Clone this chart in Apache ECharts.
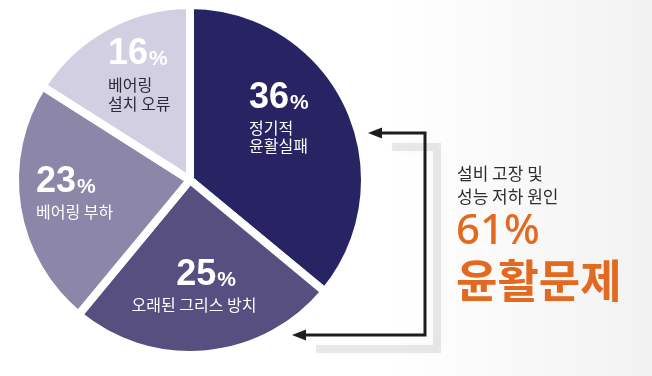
<!DOCTYPE html>
<html>
<head>
<meta charset="utf-8">
<script src="https://cdn.jsdelivr.net/npm/echarts@6/dist/echarts.min.js"></script>
<style>
  html, body { margin: 0; padding: 0; }
  #chart { width: 652px; height: 376px; }
</style>
</head>
<body>
<div id="chart"></div>
<script>
// 원인별 비율 (%)
const causes = ['정기적\n윤활실패', '오래된 그리스 방치', '베어링 부하', '베어링\n설치 오류']
const shares = [36, 25, 23, 16]
const sliceColors = ['#282463', '#574f80', '#8c86a9', '#d1cfe1']

// 오른쪽 요약 문구
const summaryLines = ['설비 고장 및', '성능 저하 원인']
const summaryValue = '61%'
const summaryTitle = '윤활문제'

// 라벨 위치 (px)
const labelPos = [
  { x: 249, y: 77, align: 'left', dark: false },
  { x: 194, y: 254, align: 'center', dark: false },
  { x: 36, y: 161, align: 'left', dark: false },
  { x: 108, y: 33, align: 'left', dark: true }
]

const chart = echarts.init(document.getElementById('chart'))

const numFont = '"Liberation Sans", Arial, sans-serif'
const krFont = '"Noto Sans CJK KR", "Noto Sans", sans-serif'

chart.setOption({
  animation: false,
  backgroundColor: {
    type: 'linear', x: 0, y: 0, x2: 1, y2: 0,
    colorStops: [
      { offset: 0, color: '#ffffff' },
      { offset: 0.6, color: '#ffffff' },
      { offset: 1, color: '#f2f2f2' }
    ]
  },
  series: [
    {
      type: 'pie',
      center: [190, 180],
      radius: 175,
      startAngle: 90,
      silent: true,
      avoidLabelOverlap: false,
      itemStyle: { borderColor: '#ffffff', borderWidth: 8 },
      labelLine: { show: false },
      label: {
        show: true,
        position: 'inside',
        color: '#ffffff',
        formatter: (p) => {
          const big = p.dataIndex === 1 ? 'pc' : 'p'
          const tStyle = labelPos[p.dataIndex].dark ? 'td' : 't'
          const lines = p.name.split('\n').map((t) => '{' + tStyle + '|' + t + '}')
          return '{' + big + '|' + p.value + '}{s|%}\n' + lines.join('\n')
        },
        rich: {
          p: { fontFamily: numFont, fontWeight: 'bold', fontSize: 36, lineHeight: 42 },
          pc: { fontFamily: numFont, fontWeight: 'bold', fontSize: 36, lineHeight: 42, padding: [0, 0, 0, 24] },
          s: { fontFamily: numFont, fontWeight: 'bold', fontSize: 21, padding: [10, 0, 0, 1] },
          t: { fontFamily: krFont, fontSize: 16, lineHeight: 18, color: '#ffffff' },
          td: { fontFamily: krFont, fontSize: 16, lineHeight: 19, color: '#2b2b38' }
        }
      },
      labelLayout: (params) => {
        const pos = labelPos[params.dataIndex]
        return { x: pos.x, y: pos.y, align: pos.align, verticalAlign: 'top' }
      },
      data: shares.map((v, i) => ({
        name: causes[i],
        value: v,
        itemStyle: { color: sliceColors[i] }
      }))
    }
  ],
  graphic: [
    // 꺾쇠 화살표 그림자
    {
      type: 'polyline',
      silent: true,
      shape: { points: [[392, 147], [437, 147], [437, 349], [316, 349]] },
      style: { stroke: 'rgba(0,0,0,0.08)', lineWidth: 8, fill: null, shadowBlur: 10, shadowColor: 'rgba(0,0,0,0.3)' }
    },
    {
      type: 'polyline',
      silent: true,
      shape: { points: [[378, 133], [425, 133], [425, 335], [302, 335]] },
      style: { stroke: '#1d1d1d', lineWidth: 3, fill: null }
    },
    {
      type: 'polygon',
      silent: true,
      shape: { points: [[368, 133], [382, 127.5], [382, 138.5]] },
      style: { fill: '#1d1d1d' }
    },
    {
      type: 'polygon',
      silent: true,
      shape: { points: [[292, 335], [306, 329.5], [306, 340.5]] },
      style: { fill: '#1d1d1d' }
    },
    {
      type: 'text',
      silent: true,
      style: {
        text: summaryLines.join('\n'),
        x: 457, y: 162,
        font: '17px ' + krFont,
        lineHeight: 23,
        fill: '#2e2e2e',
        textAlign: 'left',
        textVerticalAlign: 'top'
      }
    },
    {
      type: 'text',
      silent: true,
      style: {
        text: summaryValue,
        x: 456, y: 232,
        font: '500 42px "Noto Sans", sans-serif',
        fill: '#e2691f',
        textAlign: 'left',
        textVerticalAlign: 'middle'
      }
    },
    {
      type: 'text',
      silent: true,
      style: {
        text: summaryTitle,
        x: 456, y: 281,
        font: 'bold 45px ' + krFont,
        fill: '#e2691f',
        textAlign: 'left',
        textVerticalAlign: 'middle'
      }
    }
  ]
})
</script>
</body>
</html>
